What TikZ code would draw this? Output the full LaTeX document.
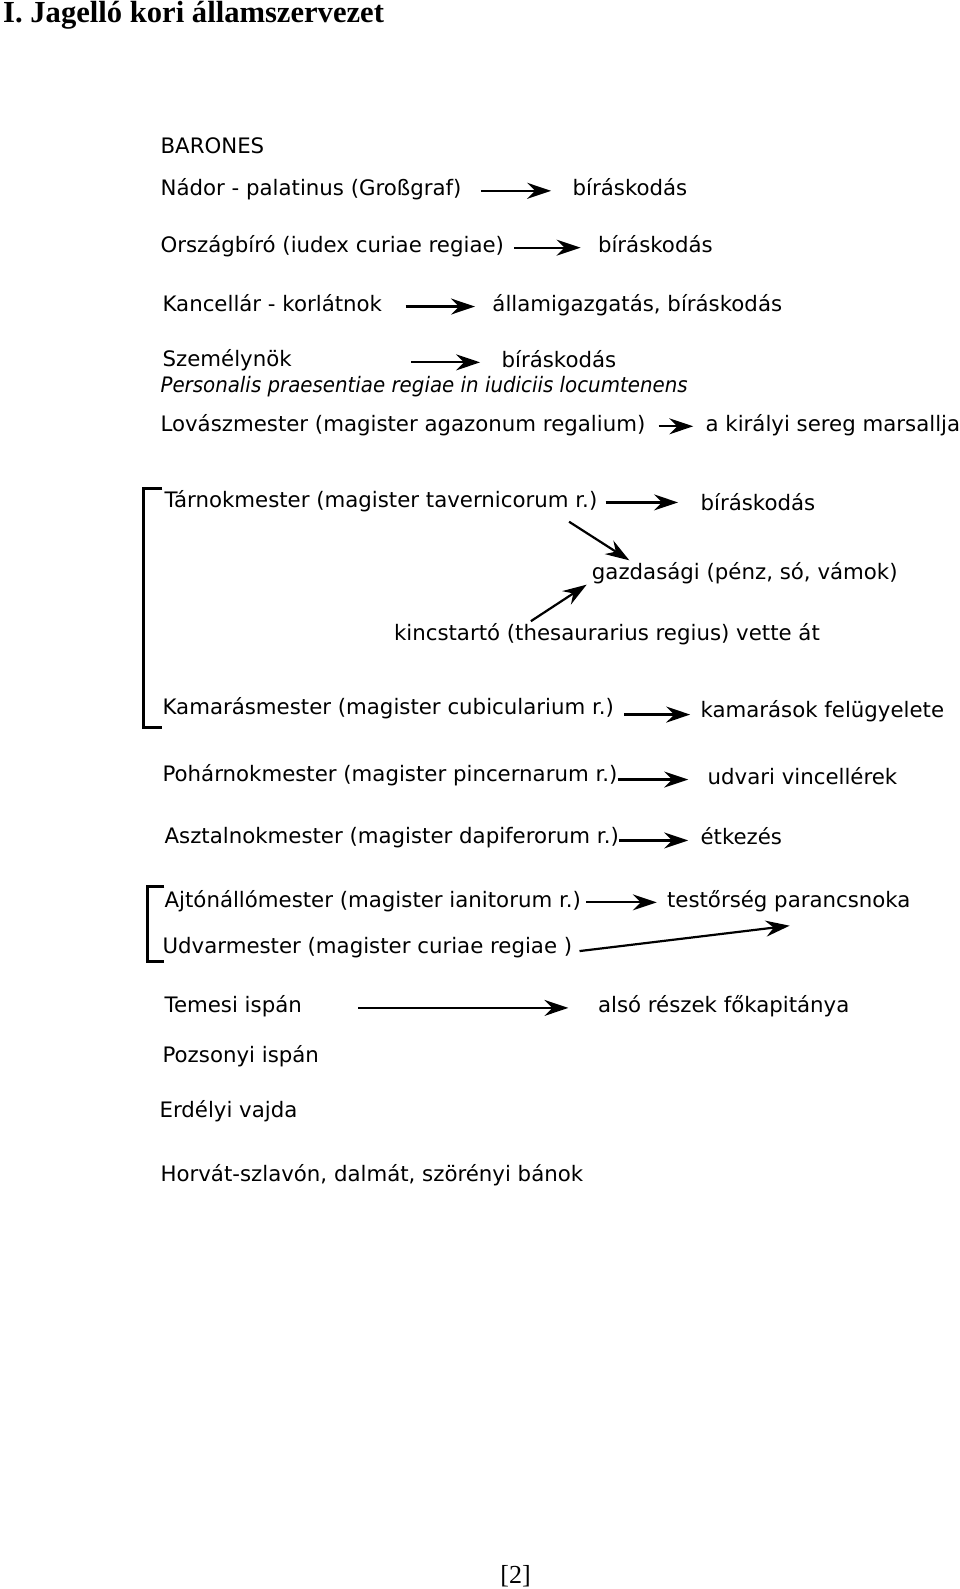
\documentclass[tikz,border=0pt]{standalone}
\usepackage{fontspec}
\setmainfont{DejaVu Sans}
\newfontfamily\itfont[FakeStretch=0.93]{DejaVu Sans Oblique}
\newfontfamily\titlefont{Liberation Serif}
\usetikzlibrary{arrows.meta,calc}
\tikzset{
  txt/.style={anchor=west,inner sep=0pt,font=\fontsize{21.3}{24}\selectfont,text height=1.0em,text depth=0em},
  arr/.style={line width=2.2pt,-{Stealth[length=24pt,width=16pt,inset=8pt]}},
  brk/.style={line width=3pt},
}
\begin{document}
\begin{tikzpicture}[x=1.015pt,y=-1.015pt]
\useasboundingbox (0,0) rectangle (945.8,1565.5);
\node[anchor=west,inner sep=0pt,font=\titlefont\bfseries\fontsize{30.6}{34}\selectfont] (title) at (3,15) {I. Jagelló kori államszervezet};
\node[txt] (barones) at (158,146) {BARONES};
\node[txt] (nador) at (158,188) {Nádor - palatinus (Großgraf)};
\node[txt] (nadorB) at (564,188) {bíráskodás};
\node[txt] (orsz) at (158,244) {Országbíró (iudex curiae regiae)};
\node[txt] (orszB) at (589,244) {bíráskodás};
\node[txt] (kanc) at (160,302) {Kancellár - korlátnok};
\node[txt] (kancB) at (485,302) {államigazgatás, bíráskodás};
\node[txt] (szem) at (160,356) {Személynök};
\node[txt] (szemB) at (494,357) {bíráskodás};
\node[txt,font=\itfont\fontsize{21.3}{24}\selectfont] (pers) at (158,382) {Personalis praesentiae regiae in iudiciis locumtenens};
\node[txt] (lov) at (158,420) {Lovászmester (magister agazonum regalium)};
\node[txt] (lovB) at (695,420) {a királyi sereg marsallja};
\node[txt] (tarn) at (162,495) {Tárnokmester (magister tavernicorum r.)};
\node[txt] (tarnB) at (690,498) {bíráskodás};
\node[txt] (gazd) at (583,566) {gazdasági (pénz, só, vámok)};
\node[txt] (kincs) at (388,626) {kincstartó (thesaurarius regius) vette át};
\node[txt] (kam) at (160,699) {Kamarásmester (magister cubicularium r.)};
\node[txt] (kamB) at (690,702) {kamarások felügyelete};
\node[txt] (poh) at (160,765) {Pohárnokmester (magister pincernarum r.)};
\node[txt] (pohB) at (697,768) {udvari vincellérek};
\node[txt] (aszt) at (162,826) {Asztalnokmester (magister dapiferorum r.)};
\node[txt] (asztB) at (690,827) {étkezés};
\node[txt] (ajto) at (162,889) {Ajtónállómester (magister ianitorum r.)};
\node[txt] (ajtoB) at (657,889) {testőrség parancsnoka};
\node[txt] (udv) at (160,934) {Udvarmester (magister curiae regiae )};
\node[txt] (tem) at (162,993) {Temesi ispán};
\node[txt] (temB) at (589,993) {alsó részek főkapitánya};
\node[txt] (pozs) at (160,1042) {Pozsonyi ispán};
\node[txt] (erd) at (157,1096) {Erdélyi vajda};
\node[txt] (horv) at (158,1159) {Horvát-szlavón, dalmát, szörényi bánok};
\node[anchor=center,inner sep=0pt,font=\titlefont\fontsize{26}{28}\selectfont] (page) at (508,1553) {[2]};
% arrows
\draw[arr] ($(nador.east)+(19,0)$) -- ($(nador.east -| nadorB.west)+(-21,0)$);
\draw[arr] ($(orsz.east)+(10,0)$) -- ($(orsz.east -| orszB.west)+(-17,0)$);
\draw[arr] ($(kanc.east)+(23,0)$) -- ($(kanc.east -| kancB.west)+(-17,0)$);
\draw[arr] ($(szemB.west)+(-89,0)$) -- ($(szemB.west)+(-21,0)$);
\draw[arr] ($(lov.east)+(13,0)$) -- ($(lov.east -| lovB.west)+(-12,0)$);
\draw[arr] ($(tarn.east)+(8,0)$) -- ($(tarn.east -| tarnB.west)+(-22,0)$);
\draw[arr] ($(tarn.east)+(-28,19)$) -- ($(gazd.west)+(37,-14)$);
\draw[arr] ($(kincs.west)+(135,-14)$) -- ($(gazd.west)+(-5,10)$);
\draw[arr] ($(kam.east)+(10,5)$) -- ($(kam.east -| kamB.west)+(-10,5)$);
\draw[arr] ($(poh.east)+(0,3)$) -- ($(poh.east -| pohB.west)+(-19,3)$);
\draw[arr] ($(aszt.east)+(0,2)$) -- ($(aszt.east -| asztB.west)+(-12,2)$);
\draw[arr] ($(ajto.east)+(5,0)$) -- ($(ajto.east -| ajtoB.west)+(-10,0)$);
\draw[arr] ($(udv.east)+(7,3)$) -- ($(ajtoB.west)+(121,23)$);
\draw[arr] ($(temB.west)+(-236,0)$) -- ($(temB.west)+(-29,0)$);
% brackets
\draw[brk] (160,481) -- (141,481) -- (141,717) -- (160,717);
\draw[brk] (162,873) -- (145,873) -- (145,947) -- (162,947);
\end{tikzpicture}
\end{document}
